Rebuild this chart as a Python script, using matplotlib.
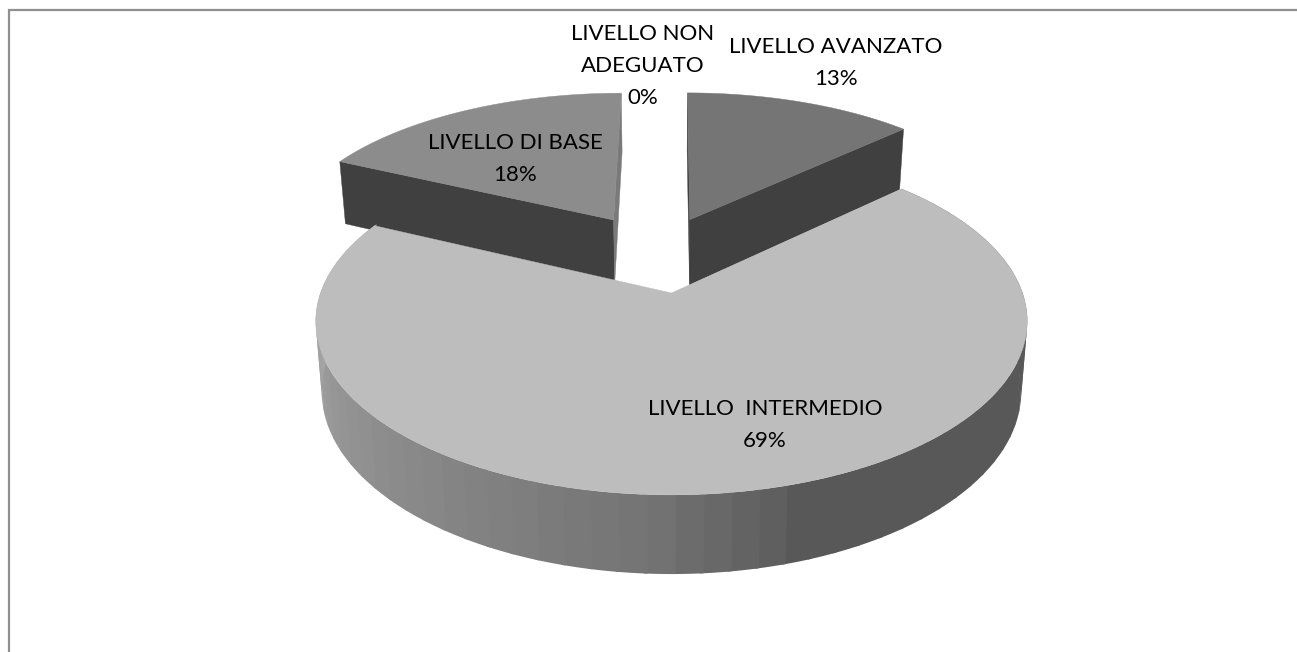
import numpy as np
import matplotlib
matplotlib.use("Agg")
import matplotlib.pyplot as plt
from matplotlib.patches import Polygon

plt.rcParams['font.family'] = ['Lato', 'DejaVu Sans']

labels = ['LIVELLO AVANZATO', 'LIVELLO  INTERMEDIO', 'LIVELLO DI BASE', 'LIVELLO NON\nADEGUATO']
values = [13, 69, 18, 0]
label_x = [836, 765, 515, 643]
label_y = [63, 425, 159, 66]
top_colors = ['#757575', '#bdbdbd', '#8c8c8c', '#ffffff']
start_cut_colors = ['#404040', '#404040', '#404040', '#404040']
end_cut_colors = ['#404040', '#404040', '#7a7a7a', '#404040']
explode = [0.24, 0.25, 0.258, 0.25]

# projection of the tilted pie, pixels
X0, Y0 = 671.5, 293
R, H = 351, 169
PERSP = 0.163
DEPTH = 69
SHRINK = 0.017


def project(wx, wy, z=0.0):
    s = 1 / (1 + PERSP * wy)
    return X0 + R * wx * s * (1 - SHRINK * z), Y0 - H * wy * s + DEPTH * s ** 0.77 * z


def wall_shade(t):
    # facets go dark towards the right, flat past about 163 deg
    if t < 163:
        return 0x58
    if t < 180:
        return 0x5c + (t - 163) / 17 * (0x70 - 0x5c)
    return 0x72 + min(t - 180, 100) / 100 * (0xac - 0x72)


fig = plt.figure(figsize=(12.97, 6.52), dpi=100)
ax = fig.add_axes([0, 0, 1, 1])
ax.set_xlim(0, 1297)
ax.set_ylim(652, 0)
ax.axis('off')

# chart frame
ax.plot([8.5, 8.5, 1297], [652, 9.5, 9.5], color='#8f8f8f', lw=1.6, solid_joinstyle='miter')

total = sum(values)
fractions = np.array(values) / total
ends = np.cumsum(fractions) * 360
starts = ends - fractions * 360
mids = np.radians((starts + ends) / 2)
off = [(e * np.sin(m), e * np.cos(m)) for e, m in zip(explode, mids)]
# world origin sits on the apex of the biggest slice
big = int(np.argmax(values))
ox, oy = off[big]


def rim(i, t, z=0.0):
    a = np.radians(t)
    return project(off[i][0] - ox + np.sin(a), off[i][1] - oy + np.cos(a), z)


def apex(i, z=0.0):
    return project(off[i][0] - ox, off[i][1] - oy, z)


# back slices first, the big one goes on top of them
for i in [0, 2, 1]:
    t0, t1 = starts[i], ends[i]
    ts = np.linspace(t0, t1, 90)
    top = [apex(i)] + [rim(i, t) for t in ts]
    if i != big:
        for t, col in ((t0, start_cut_colors[i]), (t1, end_cut_colors[i])):
            ax.add_patch(Polygon([apex(i), rim(i, t), rim(i, t, 1), apex(i, 1)],
                                 closed=True, fc=col, ec=col, lw=0.3))
    else:
        step = 3.9
        edges = np.arange(t0, t1 + step, step)
        # painted in order from the flat dark side, overlap hides the seams
        for a, b in zip(edges[:-1], edges[1:]):
            b = min(b, t1)
            g = int(wall_shade((a + b) / 2))
            col = f'#{g:02x}{g:02x}{g:02x}'
            seg = np.linspace(a, b + 0.6, 5)
            pts = [rim(i, t) for t in seg] + [rim(i, t, 1) for t in seg[::-1]]
            ax.add_patch(Polygon(pts, closed=True, fc=col, ec='none', lw=0))
    ax.add_patch(Polygon(top, closed=True, fc=top_colors[i], ec=top_colors[i], lw=0.3))

# data labels
for name, v, x, y in zip(labels, values, label_x, label_y):
    ax.text(x, y, f'{name}\n{v}%', ha='center', va='center', fontsize=16,
            color='black', linespacing=1.75)

fig.savefig('out.png', dpi=100)
